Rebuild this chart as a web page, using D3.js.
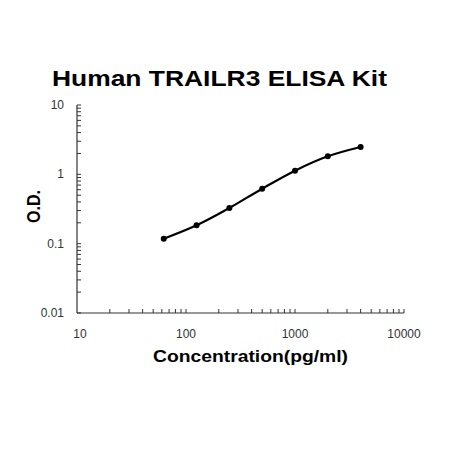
<!DOCTYPE html>
<html>
<head>
<meta charset="utf-8">
<script src="https://cdn.jsdelivr.net/npm/d3@7"></script>
<style>
  body { margin: 0; background: #fff; }
  text { font-family: "Liberation Sans", Arial, sans-serif; }
</style>
</head>
<body>
<div class="canvas"></div>
<script>
const concentration = [62.5, 125, 250, 500, 1000, 2000, 4000];
const od = [0.118, 0.184, 0.327, 0.621, 1.13, 1.82, 2.48];
const xTickValues = [10, 100, 1000, 10000];
const yTickValues = [0.01, 0.1, 1, 10];
const yTickLabels = ["0.01", "0.1", "1", "10"];

const width = 450,
    height = 450,
    plotLeft = 77,
    plotRight = 404,
    plotTop = 105,
    plotBottom = 313;

const svg = d3.select('.canvas').append("svg")
    .attr('width', width)
    .attr('height', height);

const x = d3.scaleLog().domain([10, 10000]).range([plotLeft, plotRight]);
const y = d3.scaleLog().domain([0.01, 10]).range([plotBottom, plotTop]);

// minor ticks, 2..9 per decade
const minor = (lo, hi) => {
    let out = [];
    for (let p = lo; p < hi; p *= 10)
        for (let k = 2; k <= 9; k++) out.push(p * k);
    return out;
};

// x axis
const gx = svg.append('g');
gx.append('line')
    .attr('x1', plotLeft).attr('x2', plotRight)
    .attr('y1', plotBottom).attr('y2', plotBottom)
    .attr('stroke', '#333').attr('stroke-width', 1.2);
gx.selectAll('.mx').data(minor(10, 10000).concat(xTickValues.slice(1))).enter()
    .append('line')
    .attr('x1', d => x(d)).attr('x2', d => x(d))
    .attr('y1', plotBottom).attr('y2', plotBottom - 4)
    .attr('stroke', '#333').attr('stroke-width', 1);
gx.selectAll('.xl').data(xTickValues).enter()
    .append('text')
    .attr('x', d => x(d) + (d === 10 ? 3 : 0))
    .attr('y', 338)
    .attr('text-anchor', 'middle')
    .attr('font-family', 'DejaVu Sans, sans-serif')
    .attr('font-size', 12)
    .attr('fill', '#333')
    .text(d => d);

// y axis
const gy = svg.append('g');
gy.append('line')
    .attr('x1', plotLeft).attr('x2', plotLeft)
    .attr('y1', plotTop).attr('y2', plotBottom)
    .attr('stroke', '#333').attr('stroke-width', 1.2);
gy.selectAll('.my').data(minor(0.01, 10).concat(yTickValues)).enter()
    .append('line')
    .attr('x1', plotLeft).attr('x2', plotLeft + 4)
    .attr('y1', d => y(d)).attr('y2', d => y(d))
    .attr('stroke', '#333').attr('stroke-width', 1);
gy.selectAll('.yl').data(yTickValues).enter()
    .append('text')
    .attr('x', 64)
    .attr('y', d => y(d) + 4)
    .attr('text-anchor', 'end')
    .attr('font-family', 'DejaVu Sans, sans-serif')
    .attr('font-size', 12)
    .attr('fill', '#333')
    .text((d, i) => yTickLabels[i]);

// curve
const line = d3.line()
    .x(d => x(d[0]))
    .y(d => y(d[1]))
    .curve(d3.curveMonotoneX);
const pts = concentration.map((c, i) => [c, od[i]]);
svg.append('path')
    .attr('d', line(pts))
    .attr('fill', 'none')
    .attr('stroke', '#000')
    .attr('stroke-width', 2.2);
svg.selectAll('.pt').data(pts).enter()
    .append('circle')
    .attr('cx', d => x(d[0]))
    .attr('cy', d => y(d[1]))
    .attr('r', 3)
    .attr('fill', '#000');

// titles
svg.append('text')
    .attr('x', 219.5).attr('y', 86)
    .attr('text-anchor', 'middle')
    .attr('font-weight', 'bold')
    .attr('font-size', 22)
    .attr('textLength', 335)
    .attr('lengthAdjust', 'spacingAndGlyphs')
    .text('Human TRAILR3 ELISA Kit');
svg.append('text')
    .attr('x', 250.5).attr('y', 362)
    .attr('text-anchor', 'middle')
    .attr('font-weight', 'bold')
    .attr('font-size', 16.5)
    .attr('textLength', 195)
    .attr('lengthAdjust', 'spacingAndGlyphs')
    .text('Concentration(pg/ml)');
svg.append('text')
    .attr('transform', 'translate(40,206.5) rotate(-90)')
    .attr('text-anchor', 'middle')
    .attr('font-weight', 'bold')
    .attr('font-size', 18)
    .attr('textLength', 33)
    .attr('lengthAdjust', 'spacingAndGlyphs')
    .text('O.D.');
</script>
</body>
</html>
